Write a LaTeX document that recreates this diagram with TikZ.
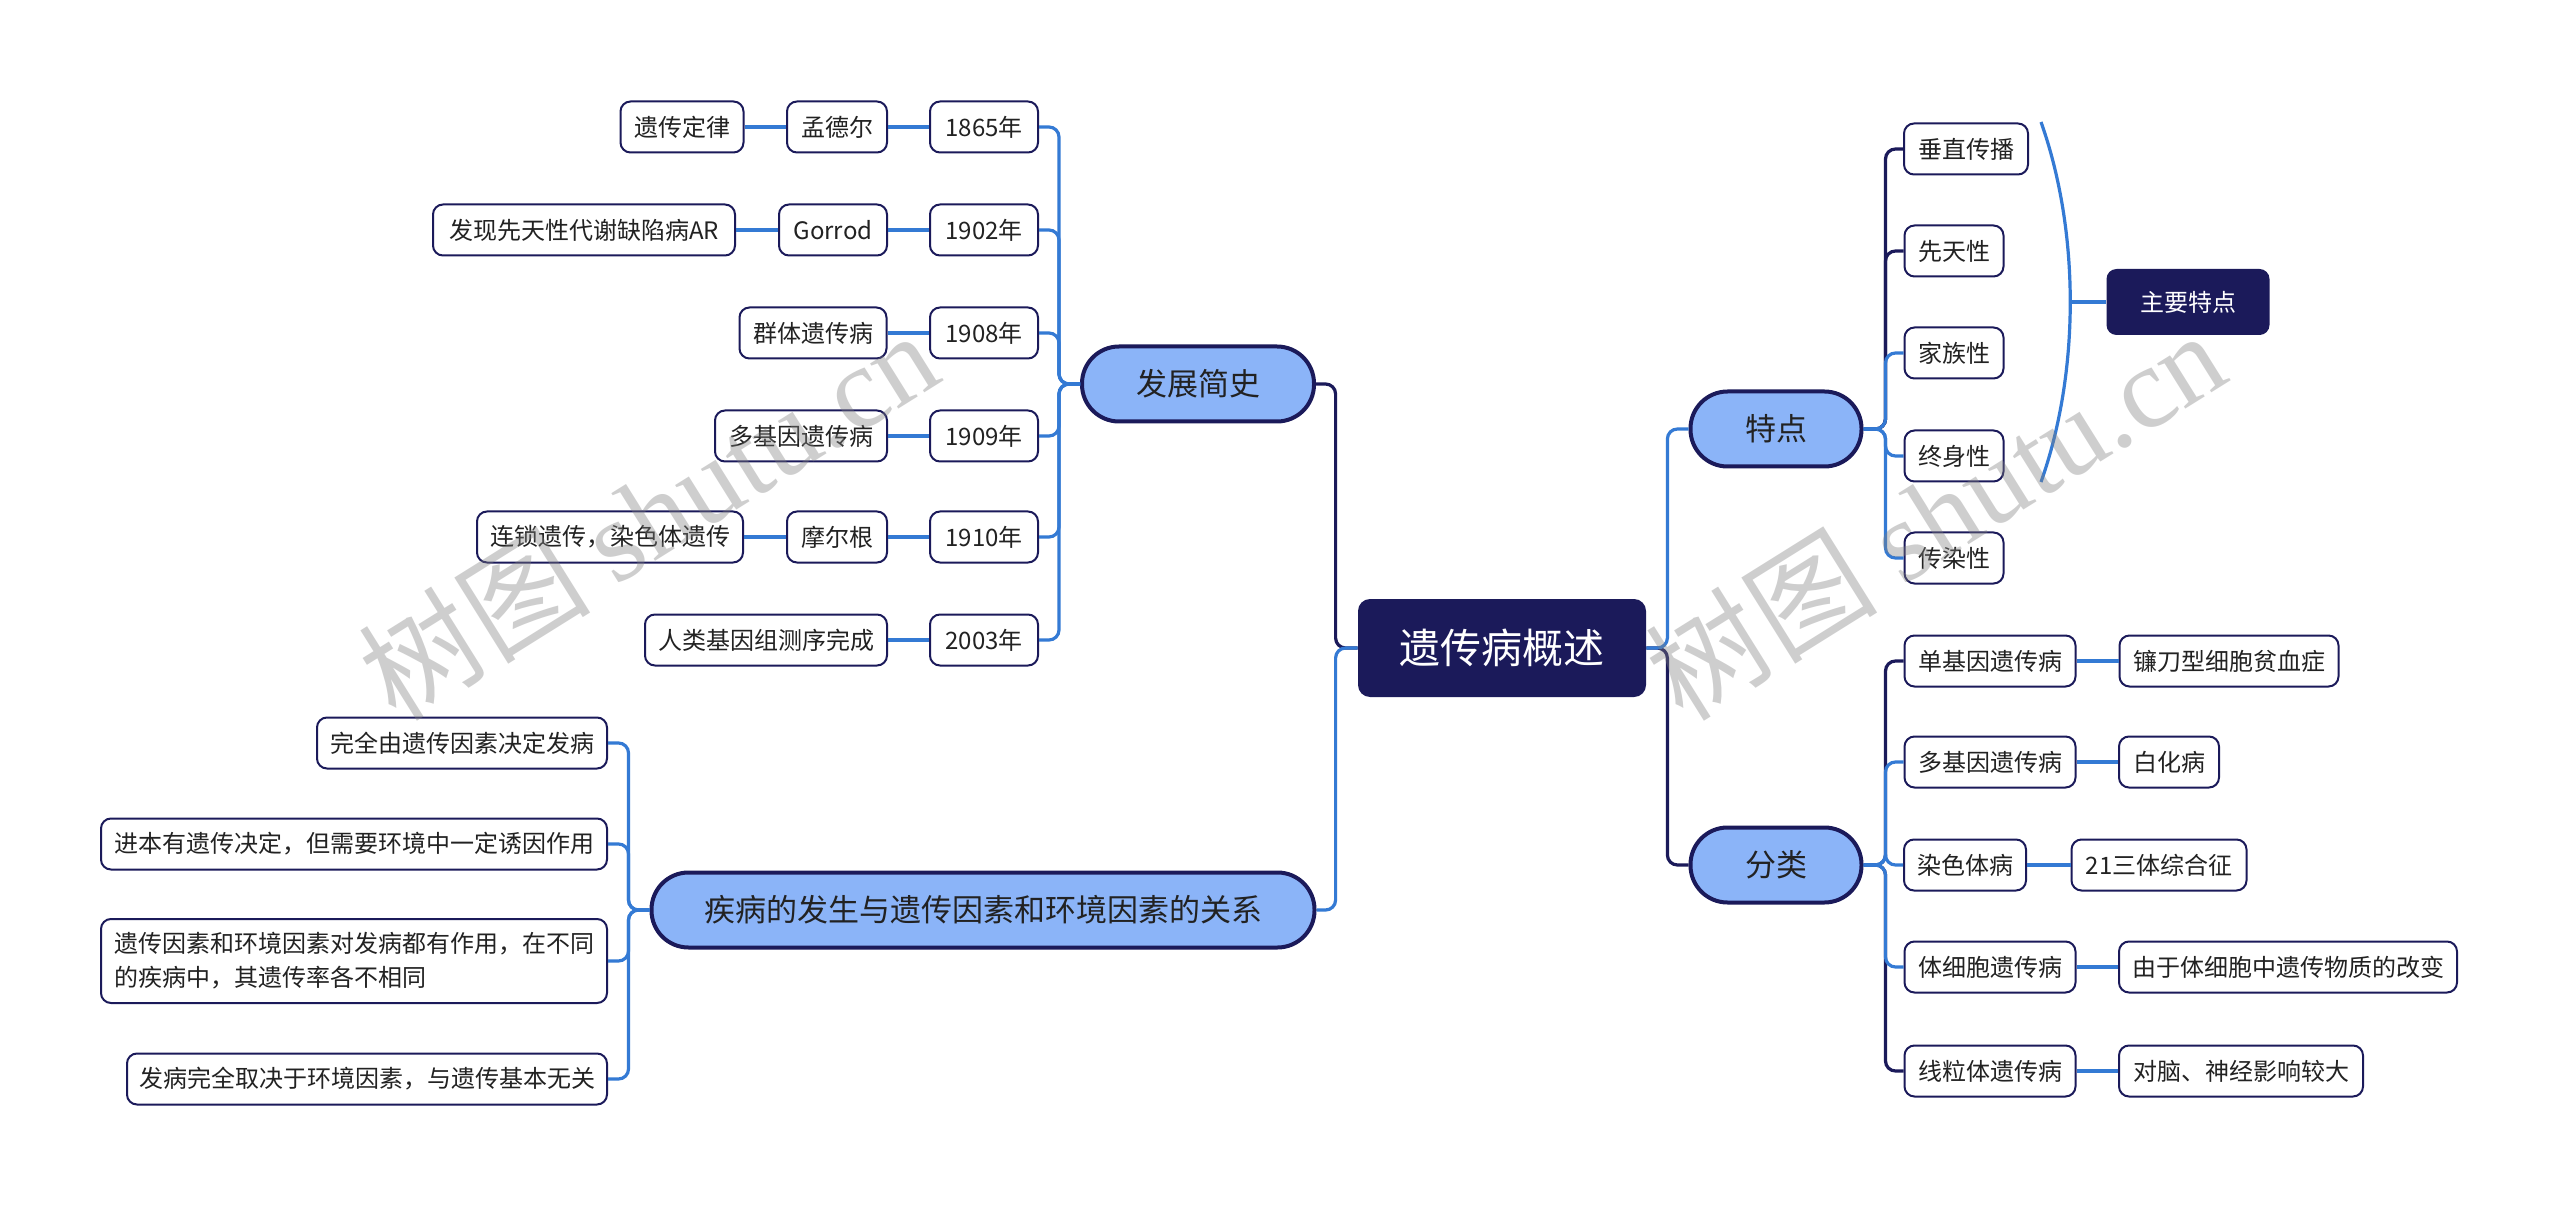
\documentclass[tikz,border=0pt]{standalone}
\usepackage{fontspec}
\setmainfont{Noto Sans CJK SC}
\newfontfamily\wmserif{Liberation Serif}
\newfontfamily\wmcjk{Noto Sans CJK SC}
\definecolor{navy}{RGB}{27,26,90}
\definecolor{lblue}{RGB}{139,180,248}
\definecolor{lineblue}{RGB}{52,122,212}
\definecolor{txt}{RGB}{34,34,34}
\tikzset{
  leaf/.style={draw=navy, line width=1pt, rounded corners=5pt, fill=white, text=txt,
    inner sep=0pt, minimum height=25.5pt, font=\fontsize{12}{16}\selectfont},
  mainnode/.style={draw=navy, line width=2pt, rounded corners=18.5pt, fill=lblue, text=txt,
    inner sep=0pt, minimum height=37.5pt, font=\fontsize{15.5}{18}\selectfont},
  rootnode/.style={fill=navy, rounded corners=6pt, text=white, inner sep=0pt,
    minimum width=144pt, minimum height=49pt, font=\fontsize{20.5}{24}\selectfont},
  sumnode/.style={fill=navy, rounded corners=5pt, text=white, inner sep=0pt,
    minimum width=81.5pt, minimum height=33pt, font=\fontsize{12}{16}\selectfont},
  bl/.style={draw=lineblue, line width=1.6pt, rounded corners=5pt},
  dk/.style={draw=navy, line width=1.6pt, rounded corners=5pt},
  wm/.style={text=gray, opacity=0.38, inner sep=0pt}
}
\begin{document}
\begin{tikzpicture}[x=0.5pt,y=-0.5pt]
\useasboundingbox[fill=white] (0,0) rectangle (2560,1208);

% root
\node[rootnode] (root) at (1502,648) {遗传病概述};

% left main nodes
\node[mainnode, minimum width=116pt] (fz) at (1198,384) {发展简史};
\node[mainnode, minimum width=331.5pt] (jb) at (983,910) {疾病的发生与遗传因素和环境因素的关系};

% right main nodes
\node[mainnode, minimum width=85.5pt] (td) at (1776,429) {特点};
\node[mainnode, minimum width=85.5pt] (fl) at (1776,865) {分类};

% history branch
\node[leaf, minimum width=54pt] (y1) at (984,127) {1865年};
\node[leaf, minimum width=50pt] (p1) at (837,127) {孟德尔};
\node[leaf, minimum width=61.5pt] (q1) at (682,127) {遗传定律};
\node[leaf, minimum width=54pt] (y2) at (984,230) {1902年};
\node[leaf, minimum width=54pt] (p2) at (833,230) {Gorrod};
\node[leaf, minimum width=151pt] (q2) at (584,230) {发现先天性代谢缺陷病AR};
\node[leaf, minimum width=54pt] (y3) at (984,333) {1908年};
\node[leaf, minimum width=73.5pt] (p3) at (813,333) {群体遗传病};
\node[leaf, minimum width=54pt] (y4) at (984,436) {1909年};
\node[leaf, minimum width=86pt] (p4) at (801,436) {多基因遗传病};
\node[leaf, minimum width=54pt] (y5) at (984,537) {1910年};
\node[leaf, minimum width=50pt] (p5) at (837,537) {摩尔根};
\node[leaf, minimum width=133pt] (q5) at (610,537) {连锁遗传，染色体遗传};
\node[leaf, minimum width=54pt] (y6) at (984,640) {2003年};
\node[leaf, minimum width=121pt] (p6) at (766,640) {人类基因组测序完成};

% relation branch
\node[leaf, minimum width=145pt] (r1) at (462,743) {完全由遗传因素决定发病};
\node[leaf, minimum width=253pt] (r2) at (354,844) {进本有遗传决定，但需要环境中一定诱因作用};
\node[leaf, minimum width=253pt, minimum height=42pt, text width=240pt, align=left, font=\fontsize{12}{17}\selectfont] (r3) at (354,961) {遗传因素和环境因素对发病都有作用，在不同\\的疾病中，其遗传率各不相同};
\node[leaf, minimum width=240pt] (r4) at (367,1079) {发病完全取决于环境因素，与遗传基本无关};

% features branch
\node[leaf, minimum width=62pt] (c1) at (1966,149) {垂直传播};
\node[leaf, minimum width=49.5pt] (c2) at (1954,251) {先天性};
\node[leaf, minimum width=49.5pt] (c3) at (1954,353) {家族性};
\node[leaf, minimum width=49.5pt] (c4) at (1954,456) {终身性};
\node[leaf, minimum width=49.5pt] (c5) at (1954,558) {传染性};
\node[sumnode] (zy) at (2188,302) {主要特点};

% classification branch
\node[leaf, minimum width=85.5pt] (k1) at (1990,661) {单基因遗传病};
\node[leaf, minimum width=85.5pt] (k2) at (1990,762) {多基因遗传病};
\node[leaf, minimum width=61pt] (k3) at (1965,865) {染色体病};
\node[leaf, minimum width=85.5pt] (k4) at (1990,967) {体细胞遗传病};
\node[leaf, minimum width=85.5pt] (k5) at (1990,1071) {线粒体遗传病};
\node[leaf, minimum width=109.5pt] (g1) at (2229,661) {镰刀型细胞贫血症};
\node[leaf, minimum width=50pt] (g2) at (2169,762) {白化病};
\node[leaf, minimum width=87.5pt] (g3) at (2159,865) {21三体综合征};
\node[leaf, minimum width=169pt] (g4) at (2288,967) {由于体细胞中遗传物质的改变};
\node[leaf, minimum width=122pt] (g5) at (2241,1071) {对脑、神经影响较大};

% root connectors
\draw[dk] (root.west) -- ++(-22,0) |- (fz.east);
\draw[bl] (root.west) -- ++(-22,0) |- (jb.east);
\draw[dk] (root.east) -- ++(21,0) |- (fl.west);
\draw[bl] (root.east) -- ++(21,0) |- (td.west);

% history connectors
\foreach \c in {y1,y2,y3,y4,y5,y6} \draw[bl] (fz.west) -- ++(-21,0) |- (\c.east);
\draw[bl] (y1.west) -- (p1.east);
\draw[bl] (p1.west) -- (q1.east);
\draw[bl] (y2.west) -- (p2.east);
\draw[bl] (p2.west) -- (q2.east);
\draw[bl] (y3.west) -- (p3.east);
\draw[bl] (y4.west) -- (p4.east);
\draw[bl] (y5.west) -- (p5.east);
\draw[bl] (p5.west) -- (q5.east);
\draw[bl] (y6.west) -- (p6.east);

% relation connectors
\foreach \c in {r1,r2,r3,r4} \draw[bl] (jb.west) -- ++(-21,0) |- (\c.east);

% features connectors
\draw[dk] (td.east) -- ++(22,0) |- (c1.west);
\draw[dk] (td.east) -- ++(22,0) |- (c2.west);
\foreach \c in {c3,c4,c5} \draw[bl] (td.east) -- ++(22,0) |- (\c.west);

% summary brace
\coordinate (bt) at (2041,122);
\coordinate (bb) at (2041,482);
\coordinate (bm) at (2070,302);
\draw[bl] (bt) .. controls (2080,232) and (2080,372) .. (bb);
\draw[bl] (bm) -- (zy.west);

% classification connectors
\draw[dk] (fl.east) -- ++(22,0) |- (k1.west);
\draw[dk] (fl.east) -- ++(22,0) |- (k5.west);
\foreach \c in {k2,k3,k4} \draw[bl] (fl.east) -- ++(22,0) |- (\c.west);
\draw[bl] (k1.east) -- (g1.west);
\draw[bl] (k2.east) -- (g2.west);
\draw[bl] (k3.east) -- (g3.west);
\draw[bl] (k4.east) -- (g4.west);
\draw[bl] (k5.east) -- (g5.west);

% watermarks
\node[wm, rotate=32] (wm1) at (648,514) {\fontsize{58}{62}\selectfont\wmcjk 树图 \wmserif shutu.cn};
\node[wm, rotate=32] (wm2) at (1935,514) {\fontsize{58}{62}\selectfont\wmcjk 树图 \wmserif shutu.cn};
\end{tikzpicture}
\end{document}
